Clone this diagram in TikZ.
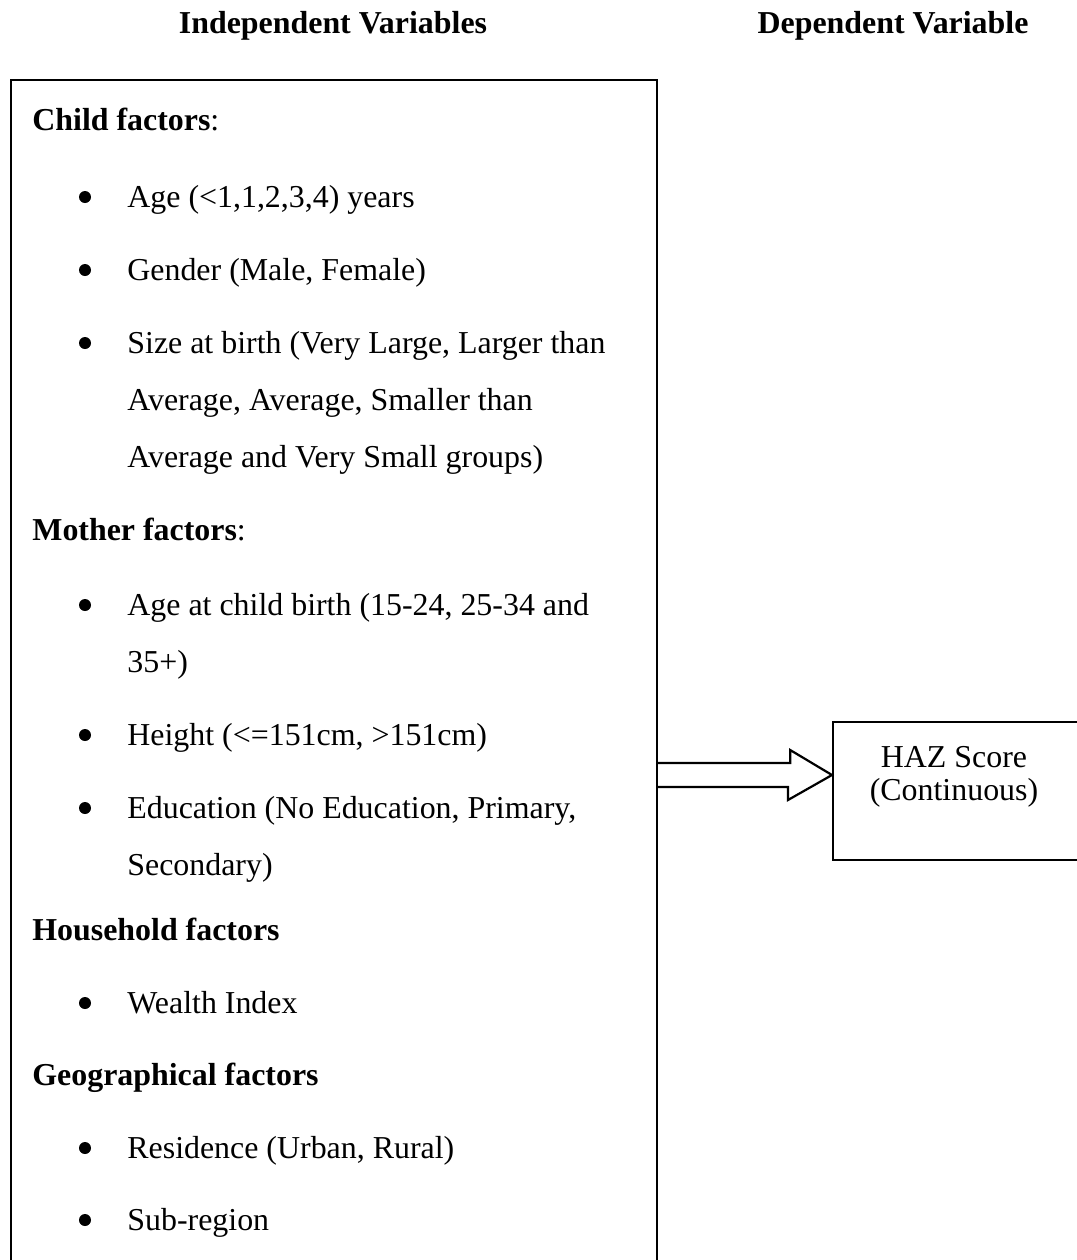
\documentclass[tikz,border=0pt]{standalone}
\usepackage{fontspec}
\setmainfont{Liberation Serif}
\usetikzlibrary{calc}
\begin{document}
\begin{tikzpicture}[x=0.5pt,y=-0.5pt,
  body/.style={anchor=base west, inner sep=0pt, font=\fontsize{15.95}{18}\selectfont},
  headtxt/.style={anchor=base west, inner sep=0pt, font=\fontsize{15.95}{18}\selectfont},
  toptitle/.style={anchor=base, inner sep=0pt, font=\fontsize{15.95}{18}\selectfont\bfseries},
  frame/.style={draw, line width=1.1pt, inner sep=0pt},
  bulletdot/.style={fill=black}]
\useasboundingbox (0,0) rectangle (1077,1260);

% titles
\node[toptitle] (t1) at (333,33) {Independent Variables};
\node[toptitle] (t2) at (893,33) {Dependent Variable};

% boxes
\node[frame, anchor=north west, minimum width=323pt, minimum height=612pt] (indep) at (10,79) {};
\node[frame, anchor=north west, minimum width=126pt, minimum height=69pt] (dep) at (832,721) {};

% HAZ text
\node[inner sep=0pt, anchor=base, font=\fontsize{15.95}{18}\selectfont] (haz1) at (954,767) {HAZ Score};
\node[inner sep=0pt, anchor=base, font=\fontsize{15.95}{18}\selectfont] (haz2) at (954,800) {(Continuous)};

% arrow
\coordinate (tip) at ($(dep.north west)+(0,54)$);
\draw[line width=1.1pt, line join=miter] (indep.east |- tip) ++(0,-12) -- ++(132,0) -- ++(0,-13) -- (tip)
  -- ++(-44,25) -- ++(0,-13) -- ++(-132,0);

% left contents
\node[headtxt] (h1) at (32,130) {\textbf{Child factors}:};
\fill[bulletdot] (85,197) circle (6);
\node[body] (l1) at (127,207) {Age (<1,1,2,3,4) years};
\fill[bulletdot] (85,270) circle (6);
\node[body] (l2) at (127,280) {Gender (Male, Female)};
\fill[bulletdot] (85,343) circle (6);
\node[body] (l3) at (127,353) {Size at birth (Very Large, Larger than};
\node[body] (l3b) at (127,410) {Average, Average, Smaller than};
\node[body] (l3c) at (127,467) {Average and Very Small groups)};

\node[headtxt] (h2) at (32,540) {\textbf{Mother factors}:};
\fill[bulletdot] (85,605) circle (6);
\node[body] (m1) at (127,615) {Age at child birth (15-24, 25-34 and};
\node[body] (m1b) at (127,672) {35+)};
\fill[bulletdot] (85,735) circle (6);
\node[body] (m2) at (127,745) {Height (<=151cm, >151cm)};
\fill[bulletdot] (85,808) circle (6);
\node[body] (m3) at (127,818) {Education (No Education, Primary,};
\node[body] (m3b) at (127,875) {Secondary)};

\node[headtxt] (h3) at (32,940) {\textbf{Household factors}};
\fill[bulletdot] (85,1003) circle (6);
\node[body] (w1) at (127,1013) {Wealth Index};

\node[headtxt] (h4) at (32,1085) {\textbf{Geographical factors}};
\fill[bulletdot] (85,1148) circle (6);
\node[body] (g1) at (127,1158) {Residence (Urban, Rural)};
\fill[bulletdot] (85,1220) circle (6);
\node[body] (g2) at (127,1230) {Sub-region};
\end{tikzpicture}
\end{document}
